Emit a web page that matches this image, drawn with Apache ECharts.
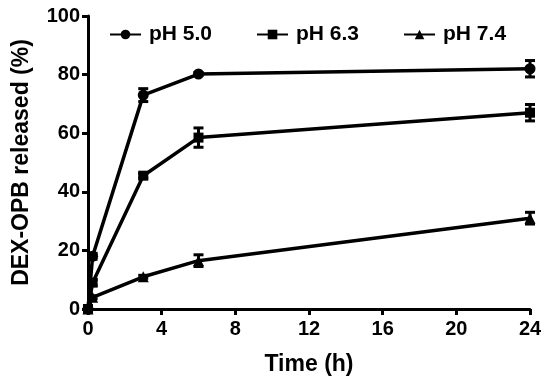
<!DOCTYPE html>
<html><head><meta charset="utf-8">
<script src="https://cdn.jsdelivr.net/npm/echarts@6/dist/echarts.min.js"></script>
<style>html,body{margin:0;padding:0;background:#fff}#c{width:550px;height:382px}</style>
</head><body><div id="c"></div>
<script>
var times = [0, 0.25, 3, 6, 24];
var ph50 = [0, 18, 73, 80.2, 82];
var ph50err = [0, 1, 2.2, 0.5, 2.8];
var ph63 = [0, 9, 45.5, 58.5, 67];
var ph63err = [0, 1, 0.8, 3.3, 2.8];
var ph74 = [0, 4, 11, 16.5, 31];
var ph74err = [0, 0.5, 0.5, 2, 2];
var seriesNames = ['pH 5.0', 'pH 6.3', 'pH 7.4'];
var xTicks = [0, 4, 8, 12, 16, 20, 24];
var yTicks = [0, 20, 40, 60, 80, 100];

var FONT = '"Liberation Sans", Arial, sans-serif';
function pts(v){ return times.map(function(t,i){ return [t, v[i]]; }); }
function errData(v,e){ return times.map(function(t,i){ return [t, v[i]-e[i], v[i]+e[i]]; }); }
function errSeries(v,e){
  return {
    type:'custom', silent:true, z:1,
    data: errData(v,e),
    renderItem: function(params, api){
      var x = api.value(0), lo = api.value(1), hi = api.value(2);
      if (hi - lo < 0.01) return null;
      var p1 = api.coord([x, lo]), p2 = api.coord([x, hi]);
      var hw = 5;
      var st = {stroke:'#000', lineWidth:3};
      return {type:'group', children:[
        {type:'line', shape:{x1:p1[0],y1:p1[1],x2:p2[0],y2:p2[1]}, style:st},
        {type:'line', shape:{x1:p1[0]-hw,y1:p1[1],x2:p1[0]+hw,y2:p1[1]}, style:st},
        {type:'line', shape:{x1:p2[0]-hw,y1:p2[1],x2:p2[0]+hw,y2:p2[1]}, style:st}
      ]};
    }
  };
}
function lineSeries(name, v, sym, size){
  return {
    name:name, type:'line', data:pts(v), symbol:sym, symbolSize:size,
    showAllSymbol:true, z:3,
    lineStyle:{color:'#000', width:3.5}, itemStyle:{color:'#000'},
    emphasis:{disabled:true}, animation:false
  };
}
var chart = echarts.init(document.getElementById('c'));
chart.setOption({
  animation:false,
  backgroundColor:'#fff',
  grid:{left:88, right:20, top:16, bottom:73},
  legend:{
    top:19, left:104, itemGap:44, itemWidth:31, itemHeight:12,
    data:seriesNames,
    textStyle:{fontFamily:FONT, fontWeight:'bold', fontSize:21, color:'#000', padding:[0,0,0,3]}
  },
  xAxis:{
    type:'value', min:0, max:24, interval:4,
    name:'Time (h)', nameLocation:'middle', nameGap:44,
    nameTextStyle:{fontFamily:FONT, fontWeight:'bold', fontSize:23, color:'#000'},
    axisLine:{lineStyle:{color:'#000', width:3}},
    axisTick:{length:6, lineStyle:{color:'#000', width:3}},
    axisLabel:{fontFamily:FONT, fontWeight:'bold', fontSize:20, color:'#000', margin:10},
    splitLine:{show:false}
  },
  yAxis:{
    type:'value', min:0, max:100, interval:20,
    name:'DEX-OPB released (%)', nameLocation:'middle', nameGap:55, nameRotate:90,
    nameTextStyle:{fontFamily:FONT, fontWeight:'bold', fontSize:23, color:'#000'},
    axisLine:{show:true, lineStyle:{color:'#000', width:3}},
    axisTick:{show:true, length:6, lineStyle:{color:'#000', width:3}},
    axisLabel:{fontFamily:FONT, fontWeight:'bold', fontSize:20, color:'#000', margin:8},
    splitLine:{show:false}
  },
  series:[
    errSeries(ph50, ph50err), errSeries(ph63, ph63err), errSeries(ph74, ph74err),
    lineSeries(seriesNames[0], ph50, 'circle', 11),
    lineSeries(seriesNames[1], ph63, 'rect', 10),
    lineSeries(seriesNames[2], ph74, 'triangle', 11)
  ]
});
</script></body></html>
